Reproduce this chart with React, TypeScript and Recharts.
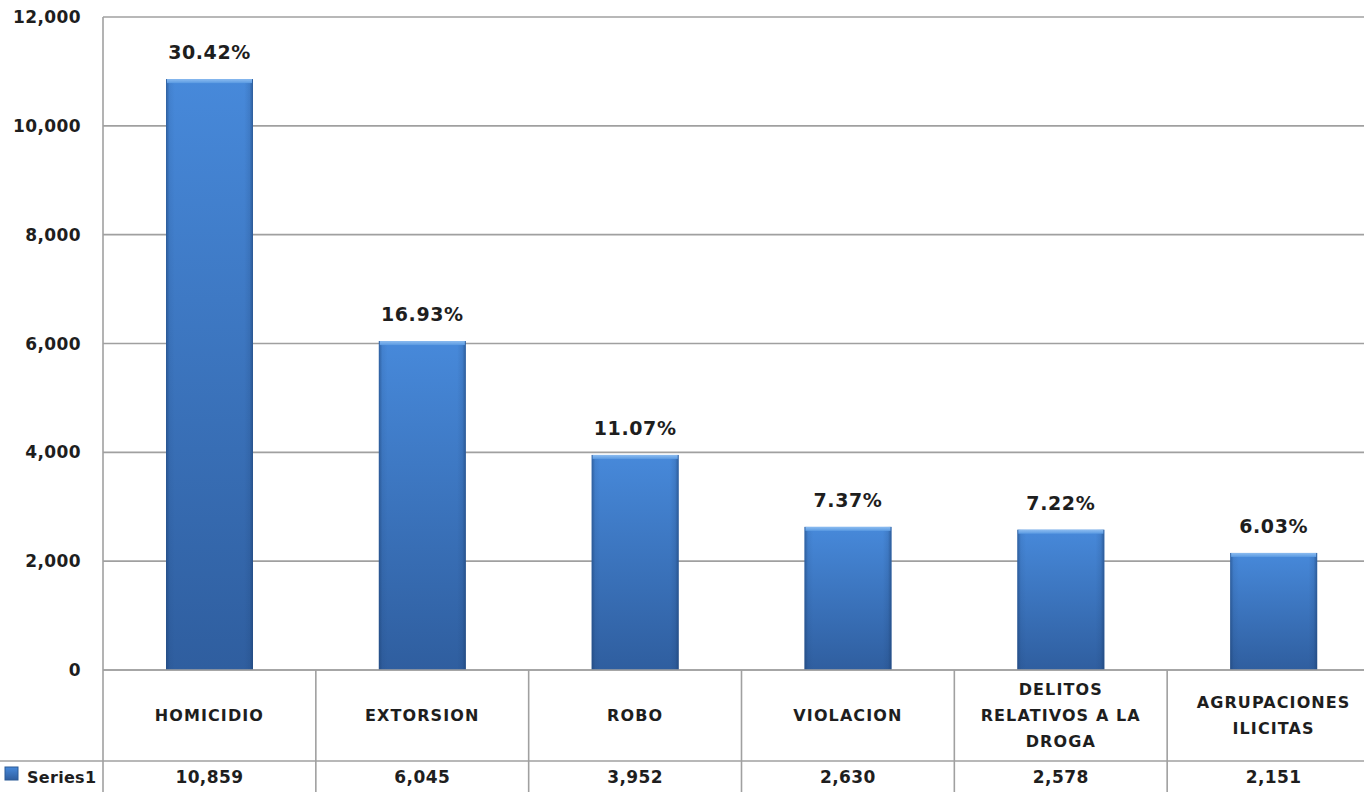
import React from "react";
import { BarChart, Bar, XAxis, YAxis, CartesianGrid, LabelList } from "recharts";

const categories = [
  "HOMICIDIO",
  "EXTORSION",
  "ROBO",
  "VIOLACION",
  "DELITOS RELATIVOS A LA DROGA",
  "AGRUPACIONES ILICITAS",
];
const values = [10859, 6045, 3952, 2630, 2578, 2151];
const percents = ["30.42%", "16.93%", "11.07%", "7.37%", "7.22%", "6.03%"];
const yTicks = [0, 2000, 4000, 6000, 8000, 10000, 12000];
const seriesName = "Series1";

const data = categories.map((c, i) => ({ category: c, value: values[i], pct: percents[i] }));

const GRID = "#a0a0a0";
const TEXT = "#1e1e1e";
const FONT = "'DejaVu Sans', sans-serif";

const fmt = (v: number) => v.toLocaleString("en-US");

function wrap(label: string, maxChars: number): string[] {
  const words = label.split(" ");
  const lines: string[] = [];
  let cur = "";
  for (const w of words) {
    const next = cur ? cur + " " + w : w;
    if (next.length > maxChars && cur) {
      lines.push(cur);
      cur = w;
    } else {
      cur = next;
    }
  }
  if (cur) lines.push(cur);
  return lines;
}

function TableTick(props: any) {
  const { x, y, payload, index, width, visibleTicksCount } = props;
  const half =
    payload && payload.offset ? payload.offset : width / (visibleTicksCount || categories.length) / 2;
  const left = x - half;
  const right = x + half;
  const rowY = y + 91;
  const lines = wrap(String(payload.value), 14);
  const lh = 26;
  const cy = y + 45;
  const startY = cy - ((lines.length - 1) * lh) / 2;
  const textStyle: any = {
    fontFamily: FONT,
    fontWeight: 700,
    fontSize: 16,
    letterSpacing: 1.1,
    fill: TEXT,
  };
  return (
    <g>
      <line x1={left} y1={y} x2={left} y2={y + 140} stroke={GRID} strokeWidth={1.6} />
      <line x1={index === 0 ? 0 : left} y1={rowY} x2={right} y2={rowY} stroke={GRID} strokeWidth={1.6} />
      {lines.map((ln, i) => (
        <text
          key={i}
          x={x}
          y={startY + i * lh}
          textAnchor="middle"
          dominantBaseline="central"
          style={textStyle}
        >
          {ln}
        </text>
      ))}
      <text
        x={x}
        y={rowY + 16}
        textAnchor="middle"
        dominantBaseline="central"
        style={{ ...textStyle, fontSize: 17, letterSpacing: 0.4 }}
      >
        {fmt(values[index])}
      </text>
      {index === 0 && (
        <g>
          <rect x={5} y={rowY + 6} width={13} height={13} fill="url(#barGrad)" stroke="#2b5a96" strokeWidth={1} />
          <text
            x={27}
            y={rowY + 16}
            dominantBaseline="central"
            style={{ ...textStyle, fontSize: 16, letterSpacing: 0.3 }}
          >
            {seriesName}
          </text>
        </g>
      )}
    </g>
  );
}

function BarShape(props: any) {
  const { x, y, width, height } = props;
  if (!height || height <= 0) return null;
  return (
    <g>
      <rect x={x} y={y} width={width} height={height} fill="url(#barGrad)" />
      <rect x={x} y={y} width={width} height={height} fill="url(#barSide)" />
      <rect x={x + 1} y={y} width={width - 2} height={4} fill="url(#barCap)" />
    </g>
  );
}

function PctLabel(props: any) {
  const { x, y, width, value } = props;
  return (
    <text
      x={x + width / 2}
      y={y - 20}
      textAnchor="middle"
      style={{ fontFamily: FONT, fontWeight: 700, fontSize: 19, letterSpacing: 0.6, fill: TEXT }}
    >
      {value}
    </text>
  );
}

export default function App() {
  return (
    <div
      style={{
        position: "fixed",
        left: 0,
        top: 0,
        width: 1364,
        height: 792,
        overflow: "hidden",
        background: "#ffffff",
      }}
    >
      <BarChart width={1380} height={792} data={data} margin={{ top: 17, right: 0, left: 0, bottom: 0 }}>
        <defs>
          <linearGradient id="barGrad" x1="0" y1="0" x2="0" y2="1">
            <stop offset="0%" stopColor="#4789da" />
            <stop offset="100%" stopColor="#2f5e9f" />
          </linearGradient>
          <linearGradient id="barSide" x1="0" y1="0" x2="1" y2="0">
            <stop offset="0%" stopColor="#1c3f70" stopOpacity={0.55} />
            <stop offset="4%" stopColor="#1c3f70" stopOpacity={0.1} />
            <stop offset="10%" stopColor="#1c3f70" stopOpacity={0} />
            <stop offset="90%" stopColor="#1c3f70" stopOpacity={0} />
            <stop offset="96%" stopColor="#1c3f70" stopOpacity={0.15} />
            <stop offset="100%" stopColor="#1c3f70" stopOpacity={0.6} />
          </linearGradient>
          <linearGradient id="barCap" x1="0" y1="0" x2="0" y2="1">
            <stop offset="0%" stopColor="#8cbcf0" />
            <stop offset="100%" stopColor="#5a9ae2" />
          </linearGradient>
        </defs>
        <CartesianGrid horizontal vertical={false} stroke={GRID} strokeWidth={1.6} strokeOpacity={1} />
        <YAxis
          type="number"
          domain={[0, 12000]}
          ticks={yTicks}
          width={103}
          tickFormatter={fmt}
          tickLine={false}
          tickSize={0}
          tickMargin={22}
          axisLine={{ stroke: GRID, strokeWidth: 1.6 }}
          tick={{ fill: TEXT, fontFamily: FONT, fontWeight: 700, fontSize: 17, letterSpacing: 0.4 } as any}
          interval={0}
        />
        <XAxis
          dataKey="category"
          type="category"
          height={122}
          tickLine={false}
          tickSize={0}
          tickMargin={0}
          interval={0}
          axisLine={{ stroke: GRID, strokeWidth: 1.6 }}
          tick={<TableTick />}
        />
        <Bar dataKey="value" barSize={87} isAnimationActive={false} shape={<BarShape />}>
          <LabelList dataKey="pct" content={<PctLabel />} />
        </Bar>
      </BarChart>
    </div>
  );
}
